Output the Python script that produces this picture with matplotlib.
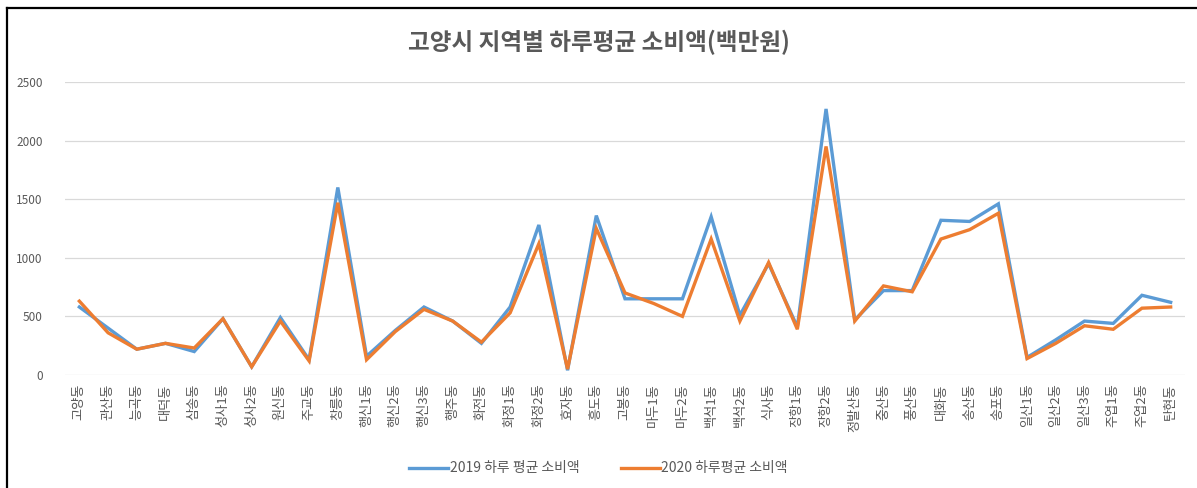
import matplotlib
matplotlib.use('Agg')
import matplotlib.pyplot as plt
from matplotlib.lines import Line2D

plt.rcParams['font.family'] = ['Noto Sans CJK KR', 'DejaVu Sans']

DISTRICTS = ['고양동', '관산동', '능곡동', '대덕동', '삼송동', '성사1동', '성사2동', '원신동',
             '주교동', '창릉동', '행신1동', '행신2동', '행신3동', '행주동', '화전동', '화정1동',
             '화정2동', '효자동', '흥도동', '고봉동', '마두1동', '마두2동', '백석1동', '백석2동',
             '식사동', '장항1동', '장항2동', '정발산동', '중산동', '풍산동', '대화동', '송산동',
             '송포동', '일산1동', '일산2동', '일산3동', '주엽1동', '주엽2동', '탄현동']
SPEND_2019 = [580, 400, 220, 270, 200, 480, 70, 490, 130, 1600, 160, 380, 580, 460, 270, 580,
              1280, 40, 1360, 650, 650, 650, 1350, 510, 950, 410, 2270, 470, 720, 720, 1320, 1310,
              1460, 150, 300, 460, 440, 680, 620]
SPEND_2020 = [630, 360, 220, 270, 230, 480, 70, 460, 120, 1470, 130, 370, 560, 460, 280, 530,
              1120, 50, 1250, 700, 610, 500, 1160, 460, 960, 390, 1950, 460, 760, 710, 1160, 1240,
              1380, 140, 270, 420, 390, 570, 580]
LABEL_2019 = '2019 하루 평균 소비액'
LABEL_2020 = '2020 하루평균 소비액'
TITLE = '고양시 지역별 하루평균 소비액(백만원)'

TXT = '#595959'
fig = plt.figure(figsize=(11.97, 4.88), dpi=100)
ax = fig.add_axes([0.0543, 0.2316, 0.9357, 0.6004])

x = range(len(DISTRICTS))
ax.plot(x, SPEND_2019, color='#5B9BD5', lw=2.4, solid_joinstyle='miter', zorder=3)
ax.plot(x, SPEND_2020, color='#ED7D31', lw=2.4, solid_joinstyle='miter', zorder=4)

ax.set_xlim(-0.5, len(DISTRICTS) - 0.5)
ax.set_ylim(0, 2500)
ax.set_yticks(range(0, 2501, 500))
ax.yaxis.grid(True, color='#D9D9D9', lw=0.9)
ax.set_axisbelow(True)
for s in ax.spines.values():
    s.set_visible(False)
ax.tick_params(axis='y', length=0, labelsize=8.5, labelcolor=TXT, pad=16)
ax.set_xticks(list(x))
ax.set_xticklabels(DISTRICTS, rotation=90, fontsize=9.5, color=TXT)
ax.tick_params(axis='x', length=0, pad=6)

fig.text(0.5, 0.912, TITLE, ha='center', va='center', fontsize=17, color=TXT,
         fontweight='bold')

handles = [Line2D([], [], color='#5B9BD5', lw=2.4), Line2D([], [], color='#ED7D31', lw=2.4)]
fig.legend(handles, [LABEL_2019, LABEL_2020], loc='center', bbox_to_anchor=(0.5, 0.04),
           ncol=2, frameon=False, fontsize=10, labelcolor=TXT, handlelength=2.8,
           handletextpad=0.1, columnspacing=3.0)

fig.add_artist(Line2D([7 / 1197, 7 / 1197], [0, 1 - 8 / 488], color='black', lw=1.6,
                      transform=fig.transFigure))
fig.add_artist(Line2D([7 / 1197, 1], [1 - 8 / 488, 1 - 8 / 488], color='black', lw=1.6,
                      transform=fig.transFigure))

fig.savefig('out.png', dpi=100)
